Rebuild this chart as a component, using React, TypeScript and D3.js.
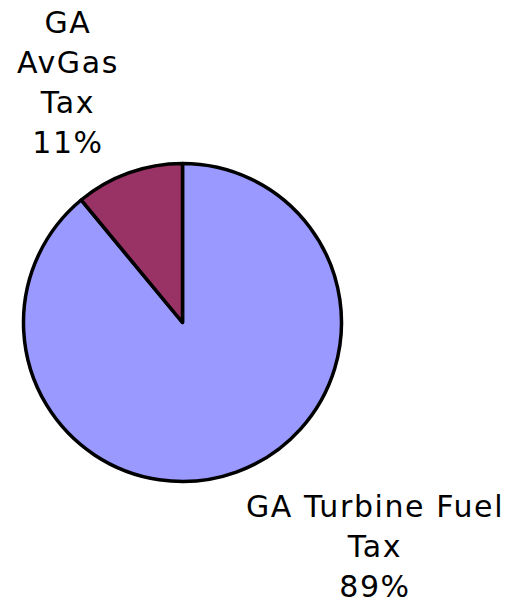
import React from "react";
import * as d3 from "d3";

const categories = ["GA Turbine Fuel Tax", "GA AvGas Tax"];
const values = [89, 11];
const colors = ["#9999FF", "#993366"];
const labelLines = [["GA Turbine Fuel", "Tax", "89%"], ["GA", "AvGas", "Tax", "11%"]];

export default function App() {
  const width = 512, height = 603;
  const cx = 182.5, cy = 322.5, r = 159;
  const pie = d3.pie<number>().sort(null).value((d) => d);
  const arcs = pie(values);
  const arc = d3.arc<d3.PieArcDatum<number>>().innerRadius(0).outerRadius(r);
  const labelPos = [
    { x: 375, y: 517 },
    { x: 68, y: 33 },
  ];
  return (
    <svg width={width} height={height} style={{ position: "absolute", left: 0, top: 0, background: "#fff" }}>
      <g transform={`translate(${cx},${cy})`}>
        {arcs.map((a, i) => (
          <path key={categories[i]} d={arc(a) || ""} fill={colors[i]} stroke="#000" strokeWidth={3.5} strokeLinejoin="round" />
        ))}
      </g>
      {labelLines.map((lines, i) => (
        <text key={i} textAnchor="middle" fontFamily="'DejaVu Sans', Verdana, sans-serif" fontSize={30} letterSpacing={1.6} fill="#000">
          {lines.map((l, j) => (
            <tspan key={j} x={labelPos[i].x} y={labelPos[i].y + j * 40}>{l}</tspan>
          ))}
        </text>
      ))}
    </svg>
  );
}
